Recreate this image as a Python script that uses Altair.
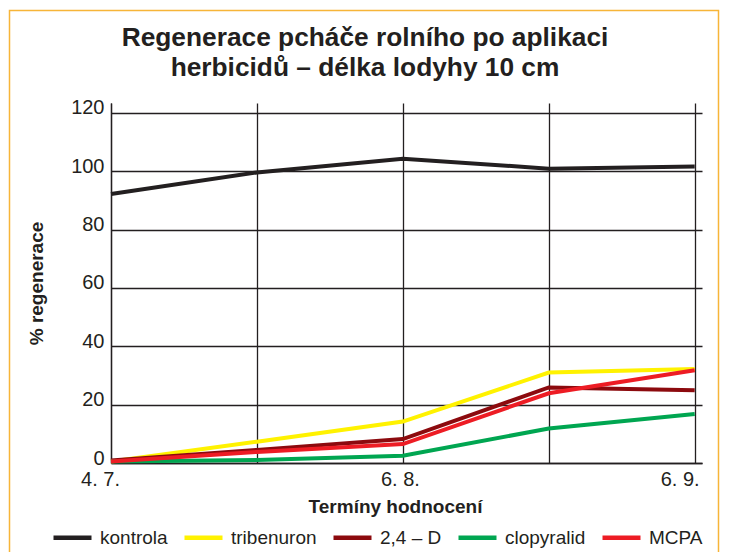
import json
import altair as alt
import pandas as pd

terms = [0, 1, 2, 3, 4]
term_labels = ["4. 7.", "", "6. 8.", "", "6. 9."]
series = ["kontrola", "tribenuron", "2,4 – D", "clopyralid", "MCPA"]
colors = ["#231f20", "#fff200", "#8c0a0e", "#00a651", "#ed1c24"]

kontrola = [92.2, 99.6, 104.3, 100.9, 101.6]
tribenuron = [0.5, 7.3, 14.2, 31.0, 32.2]
d24 = [0.9, 4.5, 8.2, 25.9, 24.9]
clopyralid = [0.5, 1.0, 2.5, 11.8, 16.8]
mcpa = [0.5, 3.8, 6.5, 23.9, 31.8]

values = [kontrola, tribenuron, d24, clopyralid, mcpa]
rows = []
for s, vals in zip(series, values):
    for t, v in zip(terms, vals):
        rows.append({"term": t, "value": v, "series": s})
df = pd.DataFrame(rows)

FONT = "Liberation Sans, Arial, Helvetica, sans-serif"
DARK = "#231f20"

label_expr = json.dumps(term_labels) + "[datum.value]"

lines = alt.Chart(df).mark_line(strokeWidth=4, strokeCap="butt", strokeJoin="miter").encode(
    x=alt.X("term:Q",
            scale=alt.Scale(domain=[0, 4.05], nice=False, zero=False),
            axis=alt.Axis(values=terms, labelExpr=label_expr, title="Termíny hodnocení",
                          grid=True, ticks=False, labelPadding=6, labelFlush=False,
                          labelOffset={"condition": [{"test": "datum.value == 0", "value": -11},
                                                     {"test": "datum.value == 4", "value": -15}],
                                       "value": -3},
                          titlePadding=8, titleX=284)),
    y=alt.Y("value:Q",
            scale=alt.Scale(domain=[0, 123.4], nice=False),
            axis=alt.Axis(values=[0, 20, 40, 60, 80, 100, 120], title="% regenerace",
                          grid=True, ticks=False, labelPadding=7, labelOffset=-5,
                          labelFlush=False, titlePadding=24)),
    color=alt.Color("series:N", sort=series,
                    scale=alt.Scale(domain=series, range=colors),
                    legend=alt.Legend(title=None, orient="none", legendX=-60, legendY=413,
                                      direction="horizontal", symbolType="stroke",
                                      symbolSize=1444, symbolStrokeWidth=4.5,
                                      labelFontSize=19, labelFont=FONT, labelColor=DARK,
                                      labelOffset=6, columnPadding=7)),
    order=alt.Order("series:N", sort="ascending"),
)

frame_df = pd.DataFrame({"f": [1]})
frame = alt.Chart(frame_df).mark_rect(fill=None, stroke="#f7b538", strokeWidth=1.5).encode(
    x=alt.value(-101.5), x2=alt.value(607.5), y=alt.value(-92.5), y2=alt.value(480)
)

chart = alt.layer(frame, lines).properties(
    width=591, height=360,
    background="white",
    autosize=alt.AutoSizeParams(type="none"),
    padding={"left": 103, "top": 95, "right": 19, "bottom": 89},
    title=alt.Title(["Regenerace pcháče rolního po aplikaci", "herbicidů – délka lodyhy 10 cm"],
                    fontSize=26.3, font=FONT, fontWeight="bold", color=DARK,
                    lineHeight=30, anchor="middle", frame="bounds", offset=0, dy=72, dx=1),
).configure_view(stroke=None).configure_axis(
    gridColor=DARK, gridWidth=1.3, gridOpacity=1,
    domainColor=DARK, domainWidth=1.3,
    labelFont=FONT, labelFontSize=20, labelColor=DARK,
    titleFont=FONT, titleFontSize=19, titleFontWeight="bold", titleColor=DARK,
)

chart.save("out.html", embed_options={"renderer": "svg", "actions": False})
